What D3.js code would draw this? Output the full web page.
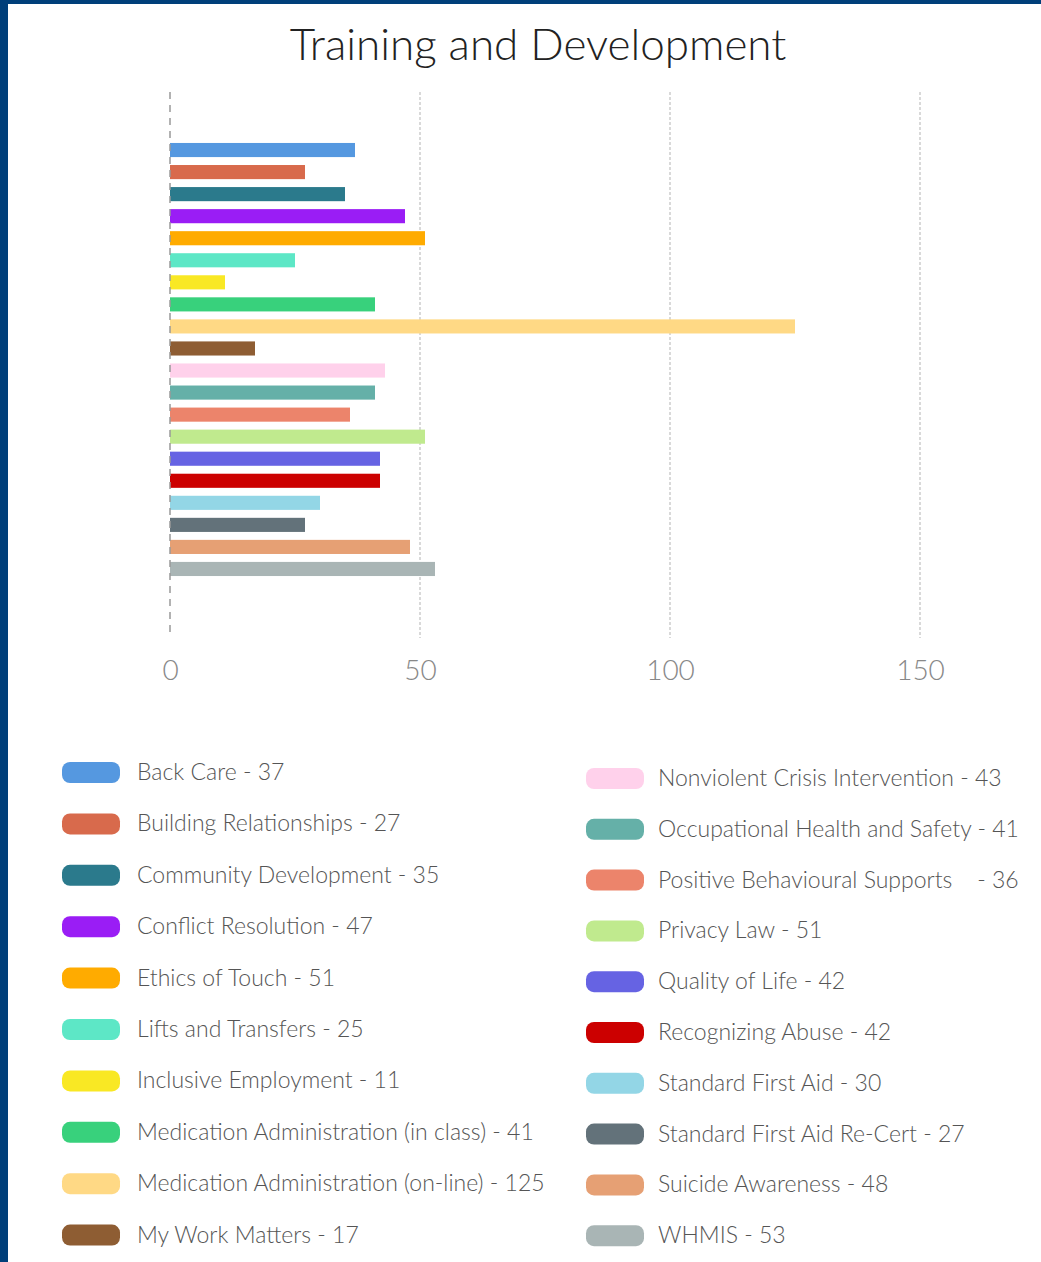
<!DOCTYPE html>
<html><head><meta charset="utf-8">
<script src="https://cdn.jsdelivr.net/npm/d3@7"></script>
<style>
html,body{margin:0;padding:0;background:#fff;}
svg{display:block;}
text{font-family:"Lato","Open Sans",sans-serif;font-weight:300;}
</style></head>
<body>
<svg id="chart" width="1041" height="1262"></svg>
<script>
const categories = ["Back Care","Building Relationships","Community Development","Conflict Resolution","Ethics of Touch","Lifts and Transfers","Inclusive Employment","Medication Administration (in class)","Medication Administration (on-line)","My Work Matters","Nonviolent Crisis Intervention","Occupational Health and Safety","Positive Behavioural Supports","Privacy Law","Quality of Life","Recognizing Abuse","Standard First Aid","Standard First Aid Re-Cert","Suicide Awareness","WHMIS"];
const values = [37,27,35,47,51,25,11,41,125,17,43,41,36,51,42,42,30,27,48,53];
const colors = ["#5598e0","#d86a4c","#2b7a8c","#9a1df5","#ffab00","#5de7c6","#f9e824","#38d17c","#ffd985","#8e5d33","#ffd1eb","#65b0a8","#ec846b","#c0ea8e","#6663e3","#cc0000","#93d6e6","#63727a","#e6a074","#a9b5b5"];
const labelSep = [" - "," - "," - "," - "," - "," - "," - "," - "," - "," - "," - "," - ","    - "," - "," - "," - "," - "," - "," - "," - "];
const xTicks = [0,50,100,150];
const title = "Training and Development";

const svg = d3.select("#chart");
// frame
svg.append("rect").attr("x",0).attr("y",0).attr("width",1041).attr("height",1262).attr("fill","#fff");
svg.append("rect").attr("x",0).attr("y",0).attr("width",8).attr("height",1262).attr("fill","#003f7a");
svg.append("rect").attr("x",0).attr("y",0).attr("width",1041).attr("height",4).attr("fill","#003f7a");

svg.append("text").attr("x",538).attr("y",60).attr("text-anchor","middle")
  .attr("font-size",44).attr("fill","#222").style("font-weight","300").text(title);

const x = d3.scaleLinear().domain([0,150]).range([170,920]);
const y = d3.scaleBand().domain(categories).range([139,580]).paddingInner(0.36).paddingOuter(0.18);

// grid
const gTop = 92, gBot = 638;
svg.append("g").selectAll("line").data(xTicks.filter(d=>d>0)).join("line")
  .attr("x1",d=>x(d)).attr("x2",d=>x(d)).attr("y1",gTop).attr("y2",gBot)
  .attr("stroke","#b3b3b3").attr("stroke-width",1).attr("stroke-dasharray","3,2");

// bars
svg.append("g").selectAll("rect").data(categories).join("rect")
  .attr("x",x(0)).attr("y",d=>y(d)).attr("height",y.bandwidth())
  .attr("width",(d,i)=>x(values[i])-x(0)).attr("fill",(d,i)=>colors[i]);

// zero line
svg.append("line").attr("x1",x(0)).attr("x2",x(0)).attr("y1",gTop).attr("y2",gBot)
  .attr("stroke","#999").attr("stroke-width",1.5).attr("stroke-dasharray","7,6");

// axis labels
const axis = d3.axisBottom(x).tickValues(xTicks).tickSize(0).tickPadding(0);
const ag = svg.append("g").attr("transform","translate(0,680)").call(axis);
ag.select(".domain").remove();
ag.selectAll("text").attr("font-size",28).attr("fill","#888").attr("dy",0)
  .style("font-family","Lato, 'Open Sans', sans-serif").style("font-weight","300");

// legend
const half = 10;
const legend = svg.append("g");
categories.forEach((c,i)=>{
  const col = i < half ? 0 : 1;
  const r = i % half;
  const sx = col === 0 ? 62 : 586;
  const tx = col === 0 ? 137 : 658;
  const cy = col === 0 ? 772 + r*51.4 : 778 + r*50.8;
  legend.append("rect").attr("x",sx).attr("y",cy-10).attr("width",58).attr("height",21)
    .attr("rx",8).attr("fill",colors[i]);
  legend.append("text").attr("x",tx).attr("y",cy+8).attr("font-size",23).attr("fill","#555")
    .attr("xml:space","preserve").style("white-space","pre")
    .text(c + labelSep[i] + values[i]);
});
</script>
</body></html>
